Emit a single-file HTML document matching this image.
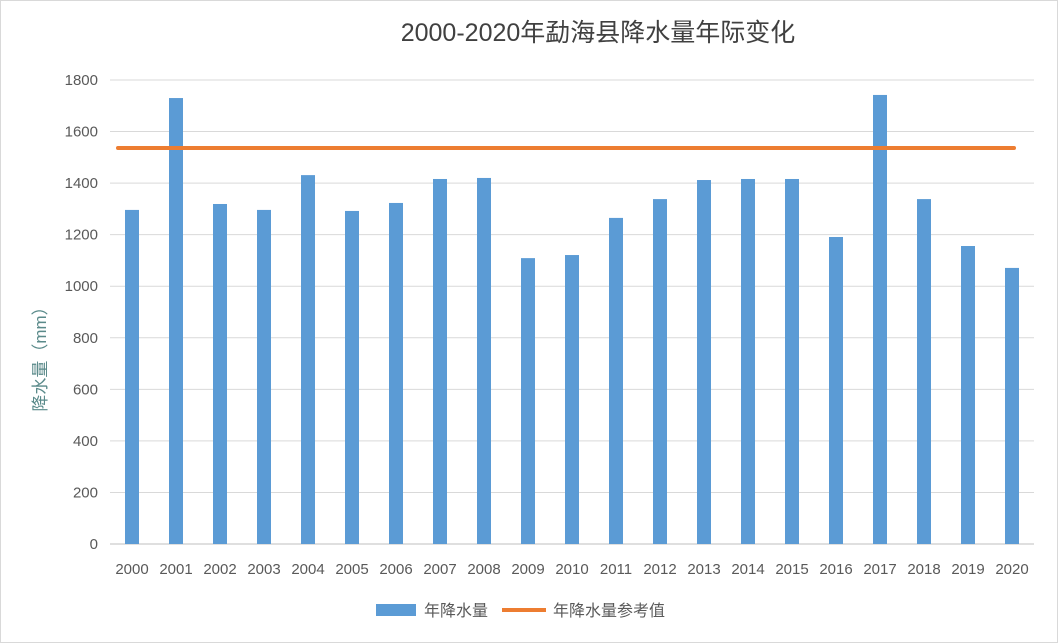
<!DOCTYPE html>
<html><head><meta charset="utf-8"><style>
body{margin:0;background:#fff}
svg{display:block;font-family:"Liberation Sans","Noto Sans CJK SC",sans-serif}
</style></head><body>
<svg id="c" width="1058" height="643">
<rect x="0.5" y="0.5" width="1057" height="642" fill="#fff" stroke="#d9d9d9"/>
<text x="598" y="41" text-anchor="middle" font-size="25" fill="#404040">2000-2020年勐海县降水量年际变化</text>
<text transform="translate(46,355) rotate(-90)" text-anchor="middle" font-size="17" fill="#5a8a8a">降水量（mm）</text>
<g id="grid"></g><g id="bars"></g><g id="line"></g><g id="labels"></g>
<g>
<rect x="376" y="604" width="40" height="12" fill="#5b9bd5"/>
<text x="424" y="616" font-size="16" fill="#595959">年降水量</text>
<line x1="502" y1="610" x2="546" y2="610" stroke="#ed7d31" stroke-width="4"/>
<text x="553" y="616" font-size="16" fill="#595959">年降水量参考值</text>
</g>
</svg>
<script>
const years=["2000","2001","2002","2003","2004","2005","2006","2007","2008","2009","2010","2011","2012","2013","2014","2015","2016","2017","2018","2019","2020"];
const rain=[1296,1730,1319,1296,1431,1292,1323,1416,1420,1109,1121,1265,1338,1412,1416,1416,1191,1742,1338,1156,1071];
const refValue=[1536];
const yTicks=[0,200,400,600,800,1000,1200,1400,1600,1800];
const NS="http://www.w3.org/2000/svg";
const x0=110,x1=1034,y0=544,y1=80,yMax=1800;
const bw=(x1-x0)/years.length;
const ys=v=>y0-(v/yMax)*(y0-y1);
const xc=i=>x0+bw*(i+0.5);
function mk(t,a,p){const e=document.createElementNS(NS,t);for(const k in a)e.setAttribute(k,a[k]);p.appendChild(e);return e;}
const g=document.getElementById('grid'),b=document.getElementById('bars'),l=document.getElementById('line'),lb=document.getElementById('labels');
yTicks.forEach(v=>{
 const ln=mk('line',{x1:x0,x2:x1,y1:ys(v),y2:ys(v),stroke:v===0?'#bfbfbf':'#d9d9d9','stroke-width':1},g);
 
 
 const t=mk('text',{x:x0-12,y:ys(v)+5,'text-anchor':'end','font-size':15,fill:'#595959'},lb);
 t.textContent=v;
 
 
});
years.forEach((yr,i)=>{
 const r=mk('rect',{x:xc(i)-7,y:ys(rain[i]),width:14,height:y0-ys(rain[i]),fill:'#5b9bd5'},b);
 
 
 const t=mk('text',{x:xc(i),y:574,'text-anchor':'middle','font-size':15,fill:'#595959'},lb);
 t.textContent=yr;
 
 
});
const rl=mk('line',{x1:xc(0)-14,x2:xc(years.length-1)+2,y1:ys(refValue[0]),y2:ys(refValue[0]),stroke:'#ed7d31','stroke-width':4,'stroke-linecap':'round'},l);


</script>
</body></html>
